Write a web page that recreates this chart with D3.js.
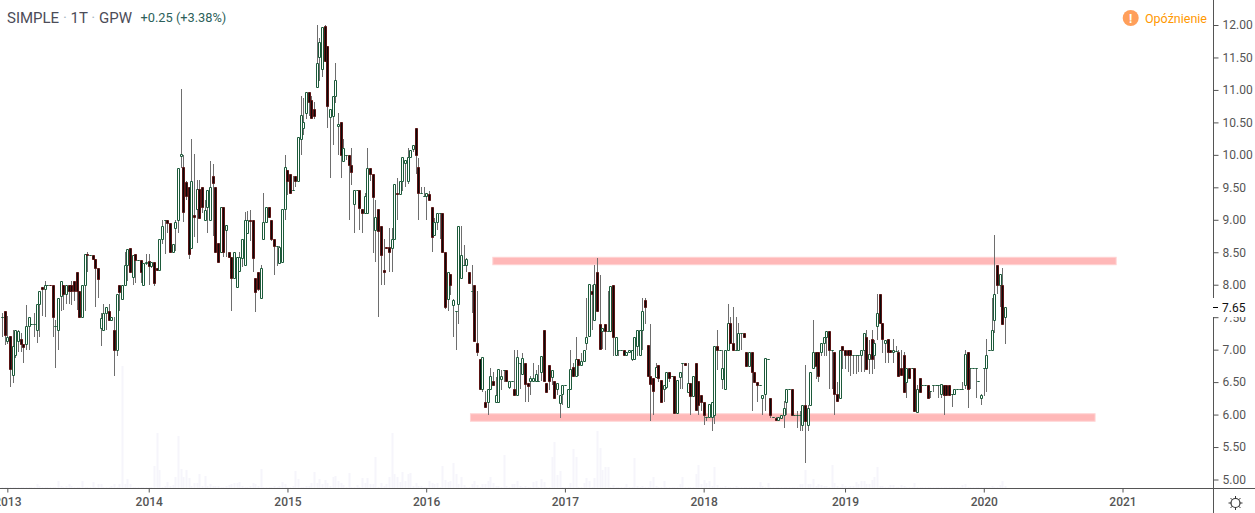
<!DOCTYPE html>
<html><head><meta charset="utf-8">
<style>html,body{margin:0;padding:0;background:#fff;overflow:hidden}svg{display:block}text{font-family:Roboto,sans-serif}</style>
<script src="https://cdn.jsdelivr.net/npm/d3@7/dist/d3.min.js"></script></head><body>
<svg id="c" width="1255" height="513"></svg>
<script>
const opens=[7.50,7.60,7.13,7.21,6.61,6.91,7.13,7.16,7.09,7.09,
7.36,7.40,7.40,7.31,7.70,7.96,7.94,8.00,8.00,7.99,
7.36,7.30,7.82,8.00,7.85,8.00,8.00,8.06,8.19,7.90,
7.50,7.99,8.48,8.46,8.46,8.39,8.25,7.33,7.30,7.56,
7.59,7.46,7.30,7.00,7.99,7.78,7.99,8.30,8.56,8.12,
8.48,8.38,8.38,8.00,8.33,8.36,8.29,8.35,8.25,8.22,
8.70,8.99,8.99,8.95,8.51,8.87,9.00,9.99,9.81,9.58,
9.50,8.56,9.07,9.16,9.47,9.50,9.00,9.20,8.99,9.68,
9.50,8.64,8.50,9.19,8.85,8.50,8.43,8.11,7.96,8.21,
8.41,8.31,8.79,8.99,8.99,8.11,8.19,7.80,8.70,8.96,
9.20,9.00,8.70,8.60,8.34,8.35,9.16,9.76,9.70,9.46,
9.68,9.60,10.25,10.41,10.65,10.97,10.85,10.70,11.05,11.50,
11.32,11.99,11.68,10.58,10.60,10.91,10.45,10.50,9.90,10.00,
10.00,9.85,9.25,9.46,9.46,9.16,9.10,9.10,9.79,9.70,
8.85,9.16,8.90,8.22,8.58,8.58,8.57,8.70,9.42,9.39,
9.60,9.87,9.60,9.96,10.09,10.41,9.81,9.41,9.37,9.37,
9.39,9.19,8.76,8.96,9.10,9.10,8.50,7.78,8.16,7.69,
7.60,7.70,8.10,8.30,8.30,8.20,7.90,7.99,7.11,6.85,
6.40,6.20,6.20,6.39,6.52,6.20,6.20,6.55,6.68,6.68,
6.43,6.51,6.40,6.30,6.80,6.62,6.80,6.48,6.51,6.51,
6.51,6.51,6.65,7.30,6.48,6.76,6.58,6.51,6.40,6.18,
6.31,6.45,6.11,6.40,6.74,6.60,6.85,6.76,6.82,7.10,
7.21,7.90,7.45,8.20,7.40,7.29,7.39,7.29,7.29,8.00,
6.92,7.00,7.00,7.00,6.91,6.96,6.85,6.85,7.05,6.91,
7.31,7.76,7.07,6.60,6.56,6.58,6.76,6.54,6.39,6.42,
6.66,6.60,6.60,6.02,6.58,6.80,6.80,6.35,6.48,6.28,
6.79,6.51,6.30,6.20,5.96,5.96,5.96,6.00,7.05,7.00,
6.55,6.40,7.00,7.41,7.10,7.00,7.00,7.25,7.25,6.96,
6.75,6.96,6.65,6.50,6.45,6.25,6.31,6.85,6.25,5.96,
5.94,5.91,5.95,6.00,6.20,6.40,6.40,6.00,6.00,6.00,
5.84,6.15,5.84,6.15,6.71,6.96,6.96,6.96,7.10,7.19,
7.29,7.00,6.96,6.31,6.25,7.05,7.00,7.00,7.00,6.91,
6.91,6.91,6.91,7.00,7.20,6.86,7.16,6.91,7.36,7.86,
7.41,7.10,7.16,7.00,6.96,6.98,6.96,6.71,6.91,6.50,
6.71,6.71,6.71,6.04,6.56,6.45,6.45,6.45,6.36,6.45,
6.45,6.45,6.31,6.45,6.45,6.45,6.31,6.31,6.40,6.40,
6.40,6.46,6.96,6.71,6.71,6.71,6.51,6.25,6.71,6.71,
7.00,7.00,7.46,8.30,8.00,8.00,7.50];
const closes=[7.50,7.23,7.20,6.70,7.06,7.30,7.28,7.09,7.04,7.36,
7.50,7.40,7.40,7.70,7.90,7.94,8.00,8.00,7.99,7.51,
7.36,7.79,8.05,7.85,8.00,7.90,7.90,7.90,7.90,7.50,
7.99,8.48,8.46,8.46,8.39,8.25,8.09,7.48,7.56,7.65,
7.46,7.51,6.99,7.85,7.89,7.99,8.30,8.55,8.20,8.45,
8.38,8.38,8.20,8.33,8.35,8.29,8.35,8.02,8.22,8.70,
8.90,8.99,8.95,8.51,8.62,8.96,9.79,10.01,9.12,9.37,
8.48,9.60,9.05,9.47,9.02,9.20,9.15,9.46,9.50,9.57,
8.50,8.35,9.19,8.51,8.92,8.43,8.11,8.50,8.43,8.42,
8.70,9.00,9.00,8.98,8.41,7.89,7.93,8.25,8.96,9.20,
9.04,8.71,8.60,8.60,8.58,9.16,9.81,9.60,9.41,9.46,
9.60,10.27,10.61,10.50,10.97,10.81,10.56,10.60,11.41,11.74,
11.97,11.45,10.76,10.70,10.90,11.16,10.47,10.00,10.10,10.00,
9.85,9.74,9.46,9.46,9.18,9.10,9.37,9.79,9.70,9.35,
9.04,8.82,8.45,8.20,8.57,8.50,8.70,9.55,9.39,9.60,
9.96,9.92,9.96,10.08,10.15,10.00,9.41,9.41,9.37,9.41,
9.30,8.74,8.97,9.10,9.10,8.51,7.65,8.19,8.00,7.76,
7.60,8.90,8.45,8.30,8.39,8.02,7.90,7.13,6.96,6.40,
6.88,6.11,6.40,6.60,6.46,6.30,6.70,6.60,6.68,6.51,
6.51,6.51,6.30,6.89,6.80,6.87,6.47,6.44,6.56,6.56,
6.62,6.51,6.90,6.51,6.35,6.51,6.68,6.26,6.48,6.30,
6.45,6.45,6.40,6.70,6.60,6.85,6.76,6.83,7.00,7.20,
8.01,7.85,8.01,7.60,7.01,7.34,7.29,7.29,7.98,7.20,
7.20,7.00,7.00,6.91,6.96,7.00,6.99,7.20,7.30,7.31,
7.60,7.66,6.60,6.47,6.37,6.74,6.56,6.20,6.46,6.66,
6.57,6.60,6.02,6.53,6.65,6.80,6.76,6.48,6.28,6.60,
6.07,6.15,6.20,5.99,5.96,6.16,6.20,7.05,7.00,7.00,
6.71,7.00,7.41,7.11,7.00,7.00,7.25,7.25,7.20,6.75,
6.96,6.66,6.50,6.46,6.45,6.30,6.87,6.85,6.00,5.96,
5.91,5.96,6.00,6.10,6.40,6.40,6.00,6.00,6.00,6.00,
6.14,5.90,6.10,6.65,6.96,6.75,6.60,7.11,7.19,7.29,
7.00,7.00,6.31,6.21,7.00,7.00,6.91,6.91,6.91,6.91,
6.91,6.91,7.00,7.25,6.70,6.94,6.86,7.11,7.56,7.41,
7.16,7.15,6.96,6.96,7.00,6.98,6.60,6.61,6.35,6.71,
6.56,6.71,6.06,6.40,6.35,6.45,6.45,6.25,6.36,6.45,
6.45,6.45,6.47,6.30,6.30,6.30,6.31,6.40,6.40,6.40,
6.40,6.94,6.40,6.71,6.71,6.71,6.51,6.30,6.71,6.91,
7.00,7.30,7.85,8.00,8.16,7.40,7.65];
const highs=[7.56,7.60,7.52,7.21,7.30,7.30,7.30,7.25,7.09,7.69,
7.50,7.40,7.56,7.70,7.90,7.96,8.05,8.00,8.00,7.99,
7.46,7.79,8.05,8.00,8.00,8.00,8.05,8.06,8.19,7.90,
7.99,8.48,8.50,8.46,8.46,8.39,8.25,7.56,7.71,7.65,
7.71,7.51,7.50,7.85,7.99,7.99,8.50,8.55,8.56,8.45,
8.48,8.38,8.38,8.33,8.48,8.48,8.35,8.35,8.25,8.70,
8.99,8.99,8.99,8.95,8.62,9.00,9.79,11.01,10.00,9.60,
9.50,10.25,10.01,9.61,9.61,9.50,9.30,9.46,9.90,9.86,
9.50,8.64,9.20,9.19,8.92,8.50,8.43,8.50,8.43,8.50,
8.70,9.12,9.14,9.15,8.99,8.11,8.19,8.30,9.41,9.20,
9.20,9.00,8.70,8.60,8.60,9.16,10.00,9.76,9.70,9.68,
9.68,10.27,10.90,10.87,10.97,10.97,10.90,10.82,12.00,11.80,
11.97,12.00,11.68,10.70,10.90,11.41,10.64,10.50,10.25,10.00,
10.00,10.10,9.46,9.46,9.46,9.16,9.41,10.10,9.79,9.70,
9.30,9.16,8.90,8.71,8.58,8.87,8.87,9.55,9.64,9.60,
9.96,9.92,10.10,10.08,10.15,10.41,9.95,9.50,9.50,9.41,
9.45,9.19,9.02,9.10,9.10,9.10,8.50,8.19,8.16,7.78,
7.60,8.90,8.90,8.61,8.41,8.20,8.30,7.99,7.90,6.85,
6.88,6.37,6.40,6.71,6.65,6.58,6.70,6.68,6.68,6.68,
6.51,6.51,6.99,6.99,6.80,6.95,6.80,6.48,6.60,6.80,
6.68,6.76,6.90,7.30,6.48,6.76,6.68,6.51,6.48,6.30,
6.45,6.45,6.40,6.99,6.80,7.20,6.85,6.95,7.00,7.80,
8.01,8.00,8.30,8.41,8.15,7.34,7.39,7.90,7.98,8.00,
7.20,7.00,7.00,7.00,6.96,7.00,7.00,7.20,7.30,7.31,
7.80,7.80,7.07,7.40,6.56,6.80,6.76,6.54,6.46,6.66,
6.66,6.60,6.60,6.53,6.65,6.80,6.80,6.80,6.48,6.60,
6.79,6.51,6.30,6.20,5.96,6.16,6.20,7.05,7.30,7.00,
7.00,7.00,7.70,7.50,7.66,7.50,7.41,7.25,7.25,6.96,
6.96,6.96,6.65,6.50,6.45,6.30,6.87,6.85,6.25,5.96,
5.96,5.96,6.00,6.21,6.40,6.40,6.40,6.00,6.05,6.05,
6.14,6.76,6.15,6.65,7.46,6.96,6.96,7.11,7.19,7.29,
7.29,7.00,6.96,6.50,7.00,7.05,7.00,7.00,7.00,6.91,
6.91,6.91,7.00,7.25,7.30,7.15,7.30,7.15,7.86,7.86,
7.41,7.15,7.16,7.00,7.16,7.05,7.00,7.00,6.96,6.71,
6.71,6.71,6.71,6.45,6.56,6.45,6.45,6.45,6.36,6.45,
6.45,6.45,6.47,6.45,6.45,6.45,6.31,6.40,6.40,6.40,
6.50,7.00,6.96,6.71,6.71,6.71,6.51,6.32,6.71,7.16,
7.00,7.80,8.77,8.30,8.16,8.25,7.65];
const lows=[7.20,7.07,7.08,6.42,6.49,6.87,6.97,6.97,6.79,6.99,
7.00,7.40,7.20,7.11,7.20,7.52,7.51,8.00,7.98,7.20,
6.72,7.00,7.60,7.61,7.71,7.71,7.69,7.75,7.61,7.50,
7.50,7.60,8.20,8.46,8.39,7.66,7.80,7.06,7.30,7.30,
7.46,7.46,6.60,6.90,7.60,7.78,7.99,8.05,8.20,7.99,
8.02,8.38,8.02,8.00,8.30,8.00,8.25,7.98,8.22,8.22,
8.62,8.48,8.79,8.51,8.51,8.52,8.80,9.79,8.97,9.30,
8.40,8.56,8.74,8.65,9.02,9.10,9.00,8.80,8.99,8.75,
8.50,8.35,8.50,8.43,8.43,8.43,7.60,8.11,7.96,8.21,
8.28,8.31,8.79,8.68,8.20,7.58,7.90,7.80,8.70,8.96,
9.04,8.68,8.15,8.29,8.34,8.35,9.00,9.38,9.41,9.46,
9.50,9.60,10.00,10.30,10.55,10.60,10.55,10.55,11.05,11.14,
11.20,11.45,10.41,9.65,10.15,10.80,10.00,9.65,9.90,9.92,
9.00,9.53,8.80,9.46,8.84,8.80,9.10,9.10,9.60,8.49,
8.35,7.50,7.99,7.99,8.57,8.20,8.20,8.70,9.00,9.39,
9.45,9.50,9.55,9.96,10.05,9.71,9.00,9.40,9.37,9.00,
9.30,8.51,8.76,8.84,8.70,8.50,7.62,7.60,7.84,7.20,
6.99,7.40,8.10,8.30,8.20,8.02,7.56,7.13,6.90,6.40,
6.35,6.11,5.99,6.39,6.46,6.20,6.20,6.38,6.50,6.51,
6.39,6.51,6.30,6.30,6.40,6.62,6.20,6.20,6.30,6.51,
6.51,6.51,6.51,6.51,6.35,6.38,6.45,6.26,6.30,5.95,
6.15,6.45,6.11,6.40,6.60,6.60,6.60,6.76,6.82,7.00,
7.21,7.30,7.45,7.60,7.01,7.01,7.00,7.29,7.29,6.90,
6.92,6.90,7.00,6.91,6.91,6.96,6.82,6.85,6.90,6.91,
7.00,7.40,6.60,5.90,6.00,6.58,6.50,6.20,6.20,6.40,
6.50,6.60,6.02,6.02,6.40,6.40,6.76,6.35,5.99,6.28,
6.07,6.00,6.05,5.84,5.90,5.96,5.75,5.85,6.69,7.00,
6.40,6.40,7.00,7.11,7.00,7.00,7.00,7.00,7.20,6.75,
6.75,6.06,6.50,6.20,6.45,6.00,6.05,6.85,5.95,5.96,
5.91,5.91,5.95,5.80,6.00,6.40,6.00,6.00,5.80,5.75,
5.75,5.26,5.75,6.15,6.71,6.55,6.50,6.90,6.90,6.90,
6.40,6.40,5.99,6.21,6.25,6.70,6.70,6.65,6.60,6.62,
6.62,6.65,6.65,6.65,6.70,6.62,6.62,6.70,7.15,7.41,
6.95,6.80,6.80,6.96,6.80,6.98,6.60,6.61,6.35,6.25,
6.56,6.71,6.06,6.04,6.35,6.45,6.45,6.25,6.25,6.35,
6.45,6.25,6.25,5.99,6.30,6.30,6.12,6.31,6.40,6.40,
6.40,6.40,6.10,6.40,6.71,6.26,6.51,6.15,6.28,6.35,
7.00,7.00,7.25,7.85,7.66,7.40,7.09];
const volumes=[1,1,1,1,1,1,1,1,1,1,1,1,1,4,2,1,1,1,1,1,
1,7,2,1,2,4,2,1,1,1,7,1,1,1,6,1,4,4,1,1,
1,2,4,1,4,122,4,9,4,1,1,1,1,1,1,1,1,22,55,18,
1,2,6,2,3,11,52,19,11,18,10,2,5,5,14,2,12,2,4,2,
2,2,1,1,2,3,4,5,5,6,2,1,1,2,5,4,2,19,1,1,
1,1,2,1,2,6,4,1,1,2,17,9,1,1,2,2,5,16,5,9,
4,8,5,2,11,12,7,5,3,1,15,1,1,3,1,10,5,10,4,4,
31,1,5,2,4,11,55,14,11,6,16,7,14,15,2,5,2,2,1,1,
7,5,4,5,1,22,8,6,7,25,14,4,11,3,1,1,4,7,3,1,
4,4,7,11,5,2,2,1,33,2,1,4,4,7,2,1,2,1,1,6,
7,1,9,6,1,1,31,46,13,17,1,1,1,5,39,31,1,1,5,10,
7,1,10,57,40,18,21,21,1,3,1,1,1,1,4,1,1,30,2,1,
2,1,1,7,11,2,1,1,7,1,1,1,1,1,4,11,1,1,1,1,
14,23,4,8,5,7,2,21,3,1,1,2,1,1,1,2,1,1,1,1,
1,1,1,1,6,2,1,5,1,1,1,1,1,1,1,1,1,1,1,4,
4,18,4,4,9,2,4,3,2,2,1,23,5,2,1,4,2,1,2,2,
6,4,7,7,4,4,8,11,21,2,2,1,1,3,3,1,1,3,2,1,
1,1,5,1,1,1,1,1,1,1,1,1,1,1,1,1,1,1,1,1,
3,4,1,1,1,1,1,1,1,1,1,2,1,1,3,7,2];
const yearLabels=["2013","2014","2015","2016","2017","2018","2019","2020","2021"];
const yearIndex=[2,55,107,159,211,263,316,368,420];
const priceTicks=[5,5.5,6,6.5,7,7.5,8,8.5,9,9.5,10,10.5,11,11.5,12];
const zoneFrom=[183.8,175.4], zoneTo=[417.8,409.9], zoneTop=[8.43,6.02], zoneBottom=[8.30,5.89];
const lastPrice=7.65;
const symbolParts=["SIMPLE"," · ","1T"," · ","GPW"], changeText="+0.25 (+3.38%)", delayText="Opóźnienie";

const svg=d3.select("#c");
const x=d3.scaleLinear().domain([0,420]).range([2,1122.5]);
const y=d3.scaleLinear().domain([5,12]).range([479.5,25]);
const v=d3.scaleLinear().domain([0,122]).range([488,366]);
const snap=p=>Math.round(p);
const GREEN="#1c5a3a",RED="#5a1414",WICK="#6e6e6e",AXIS="#555555",LABEL="#555555";
const defs=svg.append("defs");
defs.append("clipPath").attr("id","pane").append("rect").attr("width",1213).attr("height",488);
const pane=svg.append("g").attr("clip-path","url(#pane)");
const idx=d3.range(opens.length);

pane.append("g").selectAll("rect").data(idx).join("rect")
 .attr("x",i=>snap(x(i))-.5).attr("width",2)
 .attr("y",i=>v(volumes[i])).attr("height",i=>488-v(volumes[i]))
 .attr("fill","#f6f5fb");

pane.append("g").selectAll("rect").data(d3.range(zoneFrom.length)).join("rect")
 .attr("x",k=>x(zoneFrom[k])+.5).attr("y",k=>y(zoneTop[k])+.5)
 .attr("width",k=>x(zoneTo[k])-x(zoneFrom[k])-1).attr("height",k=>y(zoneBottom[k])-y(zoneTop[k])-1)
 .attr("fill","#ffb8b8").attr("stroke","#ffd2d2").attr("stroke-width",1);

const wicks=pane.append("g").attr("stroke",WICK).attr("stroke-width",1);
wicks.selectAll("line").data(idx).join("line")
 .attr("x1",i=>snap(x(i))+.5).attr("x2",i=>snap(x(i))+.5)
 .attr("y1",i=>snap(y(highs[i]))).attr("y2",i=>snap(y(lows[i])));

const body=i=>{
  const l=snap(x(i))-.5, top=snap(y(Math.max(opens[i],closes[i])))+.5, bot=snap(y(Math.min(opens[i],closes[i])))+.5;
  return `M${l},${top}H${l+2}V${bot}H${l}Z`;
};
pane.append("g").selectAll("path").data(idx).join("path")
 .attr("d",body)
 .attr("fill",i=>closes[i]<opens[i]?"#0a0a0a":"#ffffff")
 .attr("stroke",i=>closes[i]<opens[i]?RED:GREEN)
 .attr("stroke-width",1);

// axes
const yAxis=d3.axisRight(y).tickValues(priceTicks).tickFormat(d3.format(".2f")).tickSize(5).tickPadding(4);
const gy=svg.append("g").attr("transform","translate(1213.5,0)").call(yAxis);
gy.select(".domain").attr("d","M0,0V513").attr("stroke",AXIS);
gy.selectAll(".tick line").attr("stroke",AXIS);
gy.selectAll("text").attr("fill",LABEL).style("font-size","12px").style("font-family","Roboto");

const xAxis=d3.axisBottom(x).tickValues(yearIndex).tickFormat((d,i)=>yearLabels[i]).tickSize(4).tickPadding(5);
const gx=svg.append("g").attr("transform","translate(0,488.5)").call(xAxis);
gx.select(".domain").attr("d","M0,0H1255").attr("stroke",AXIS);
gx.selectAll(".tick line").attr("stroke",AXIS);
gx.selectAll("text").attr("fill",LABEL).style("font-size","12px").style("font-weight","500").style("font-family","Roboto");

// last price label
const ly=y(lastPrice);
svg.append("rect").attr("x",1213).attr("y",298).attr("width",42).attr("height",19).attr("fill","#fff");
svg.append("line").attr("x1",1213).attr("x2",1218).attr("y1",Math.round(ly)+.5).attr("y2",Math.round(ly)+.5).attr("stroke","#000");
svg.append("text").attr("x",1222).attr("y",ly+4.4).attr("fill","#111").style("font-size","12px").text(d3.format(".2f")(lastPrice));

// header
const head=svg.append("text").attr("x",7).attr("y",22.5).attr("fill","#4c4c58").style("font-size","15px");
head.selectAll("tspan").data(symbolParts).join("tspan").attr("fill",d=>d.trim()==="·"?"#a8b8c4":"#4c4c58").attr("xml:space","preserve").text(d=>d);
svg.append("text").attr("x",140.5).attr("y",22).attr("fill","#2c5f5a").style("font-size","12.8px").text(changeText);
svg.append("circle").attr("cx",1130.7).attr("cy",18).attr("r",8).attr("fill","#ff9f5a");
svg.append("text").attr("x",1130.7).attr("y",22.5).attr("text-anchor","middle").attr("fill","#fff").style("font-size","12px").style("font-weight","700").text("!");
svg.append("text").attr("x",1145).attr("y",22.5).attr("fill","#ff9800").style("font-size","12.5px").text(delayText);

// settings icon
const gear=svg.append("g").attr("transform","translate(1235.5,503)").attr("stroke","#333").attr("fill","none");
gear.append("circle").attr("r",4.5).attr("stroke-width",1.2);
gear.selectAll("line").data(d3.range(8)).join("line")
 .attr("x1",k=>4.5*Math.cos(k*Math.PI/4)).attr("y1",k=>4.5*Math.sin(k*Math.PI/4))
 .attr("x2",k=>7*Math.cos(k*Math.PI/4)).attr("y2",k=>7*Math.sin(k*Math.PI/4));
</script></body></html>
